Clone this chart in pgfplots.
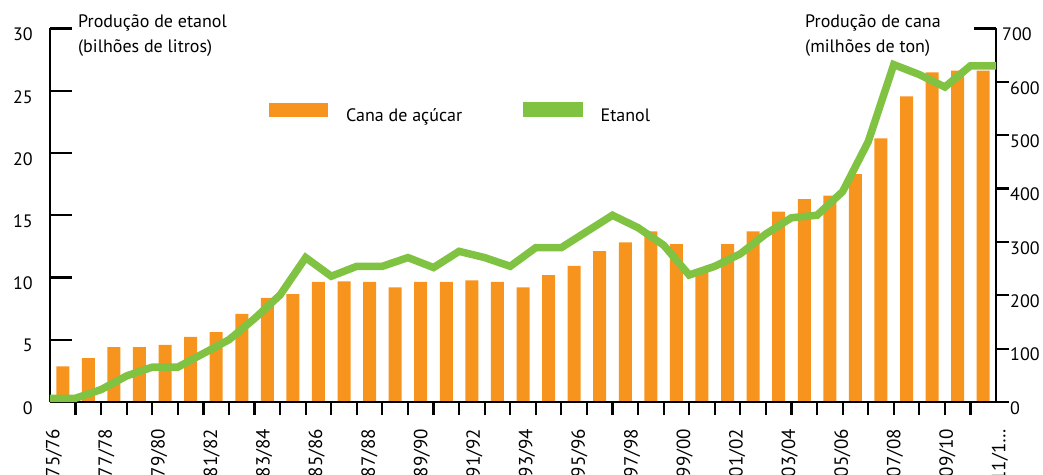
\documentclass[border=0pt]{standalone}
\usepackage{pgfplots}
\pgfplotsset{compat=1.18}
\usepackage{pgfplotstable}
\usepackage{fontspec}
\setmainfont{PT Sans}
\definecolor{cana}{RGB}{247,148,29}
\definecolor{etanol}{RGB}{128,194,66}

\pgfplotstableread{
x y
0.5 67
1.5 82
2.5 103
3.5 103
4.5 107
5.5 122
6.5 131
7.5 165
8.5 195
9.5 202
10.5 225
11.5 226
12.5 225
13.5 215
14.5 225
15.5 225
16.5 228
17.5 225
18.5 215
19.5 238
20.5 255
21.5 283
22.5 299
23.5 320
24.5 296
25.5 249
26.5 296
27.5 320
28.5 357
29.5 380
30.5 387
31.5 427
32.5 494
33.5 573
34.5 618
35.5 621
36.5 621
}\canatable

\pgfplotstableread{
x y
0 0.3
1 0.3
2 1.0
3 2.1
4 2.8
5 2.8
6 3.9
7 5.0
8 6.7
9 8.6
10 11.6
11 10.1
12 10.9
13 10.9
14 11.6
15 10.8
16 12.1
17 11.6
18 10.9
19 12.4
20 12.4
21 13.7
22 15.0
23 14.0
24 12.6
25 10.2
26 10.9
27 11.9
28 13.5
29 14.8
30 15.0
31 16.9
32 20.9
33 27.1
34 26.3
35 25.3
36 27.0
37 27.0
}\etanoltable

\begin{document}
\begin{tikzpicture}[font=\fontsize{18}{21}\selectfont]
% bars: sugar cane, right axis
\begin{axis}[
  at={(0pt,0pt)}, anchor=south west,
  scale only axis, width=946pt, height=373.5pt,
  xmin=0, xmax=37, ymin=0, ymax=700,
  axis y line*=right, axis x line*=bottom,
  axis line style={line width=2.8pt, -},
  xtick={1,...,36}, xticklabels={},
  ytick={0,100,...,600},
  extra y ticks={700},
  extra y tick style={tick align=inside, major tick length=22pt,
    yticklabel style={xshift=5pt}},
  tick align=outside, major tick length=13pt,
  tick style={line width=2.2pt, black},
  /pgf/number format/assume math mode=true,
  tick label style={font=\fontsize{18}{21}\selectfont},
  yticklabel style={inner sep=0pt, anchor=west, xshift=1pt, yshift=-6pt},
  legend style={at={(0.2315,0.775)}, anchor=west, draw=none, fill=none,
    inner sep=0pt, nodes={inner sep=0pt},
    /tikz/every odd column/.append style={column sep=18pt},
    /tikz/every even column/.append style={column sep=61pt}},
  legend columns=2, legend cell align=left,
]
\addplot[ybar, bar width=13pt, fill=cana, draw=none,
  legend image code/.code={\fill[cana] (0pt,-1pt) rectangle (59pt,13pt);}]
  table[x=x, y=y] {\canatable};
\addlegendentry{Cana de açúcar}
\addlegendimage{legend image code/.code={\fill[etanol] (0pt,-1pt) rectangle (59pt,13pt);}}
\addlegendentry{Etanol}
\end{axis}
% line: ethanol, left axis
\begin{axis}[
  at={(0pt,0pt)}, anchor=south west,
  scale only axis, width=946pt, height=373.5pt,
  xmin=0, xmax=37, ymin=0, ymax=30,
  axis y line*=left, axis x line*=bottom,
  axis line style={line width=2.8pt, -},
  xtick={0,2.05556,4.11111,6.16667,8.22222,10.27778,12.33333,14.38889,16.44444,18.5,20.55556,22.61111,24.66667,26.72222,28.77778,30.83333,32.88889,34.94444,37},
  xticklabels={75/76,77/78,79/80,81/82,83/84,85/86,87/88,89/90,91/92,93/94,95/96,97/98,99/00,01/02,03/04,05/06,07/08,09/10,{11/1\ldots}},
  x tick style={draw=none},
  ytick={0,5,...,30},
  tick align=inside, major tick length=22pt,
  y tick style={line width=2.2pt, black},
  /pgf/number format/assume math mode=true,
  tick label style={font=\fontsize{18}{21}\selectfont},
  yticklabel style={inner sep=0pt, anchor=east, xshift=-17pt, yshift=-6pt},
  xticklabel style={inner sep=0pt, yshift=-27pt, xshift=4pt, rotate=90, anchor=east, font=\fontsize{19}{22}\selectfont},
]
\addplot[etanol, line width=7.5pt, line join=miter] table[x=x, y=y] {\etanoltable};
\end{axis}
\node[anchor=base west, inner sep=0pt] at (28pt,374pt) {Produção de etanol};
\node[anchor=base west, inner sep=0pt] at (28pt,349pt) {(bilhões de litros)};
\node[anchor=base west, inner sep=0pt] at (755pt,374pt) {Produção de cana};
\node[anchor=base west, inner sep=0pt] at (755pt,349pt) {(milhões de ton)};
\pgfresetboundingbox
\useasboundingbox (-50pt,-72pt) rectangle (993pt,402pt);
\end{tikzpicture}
\end{document}
